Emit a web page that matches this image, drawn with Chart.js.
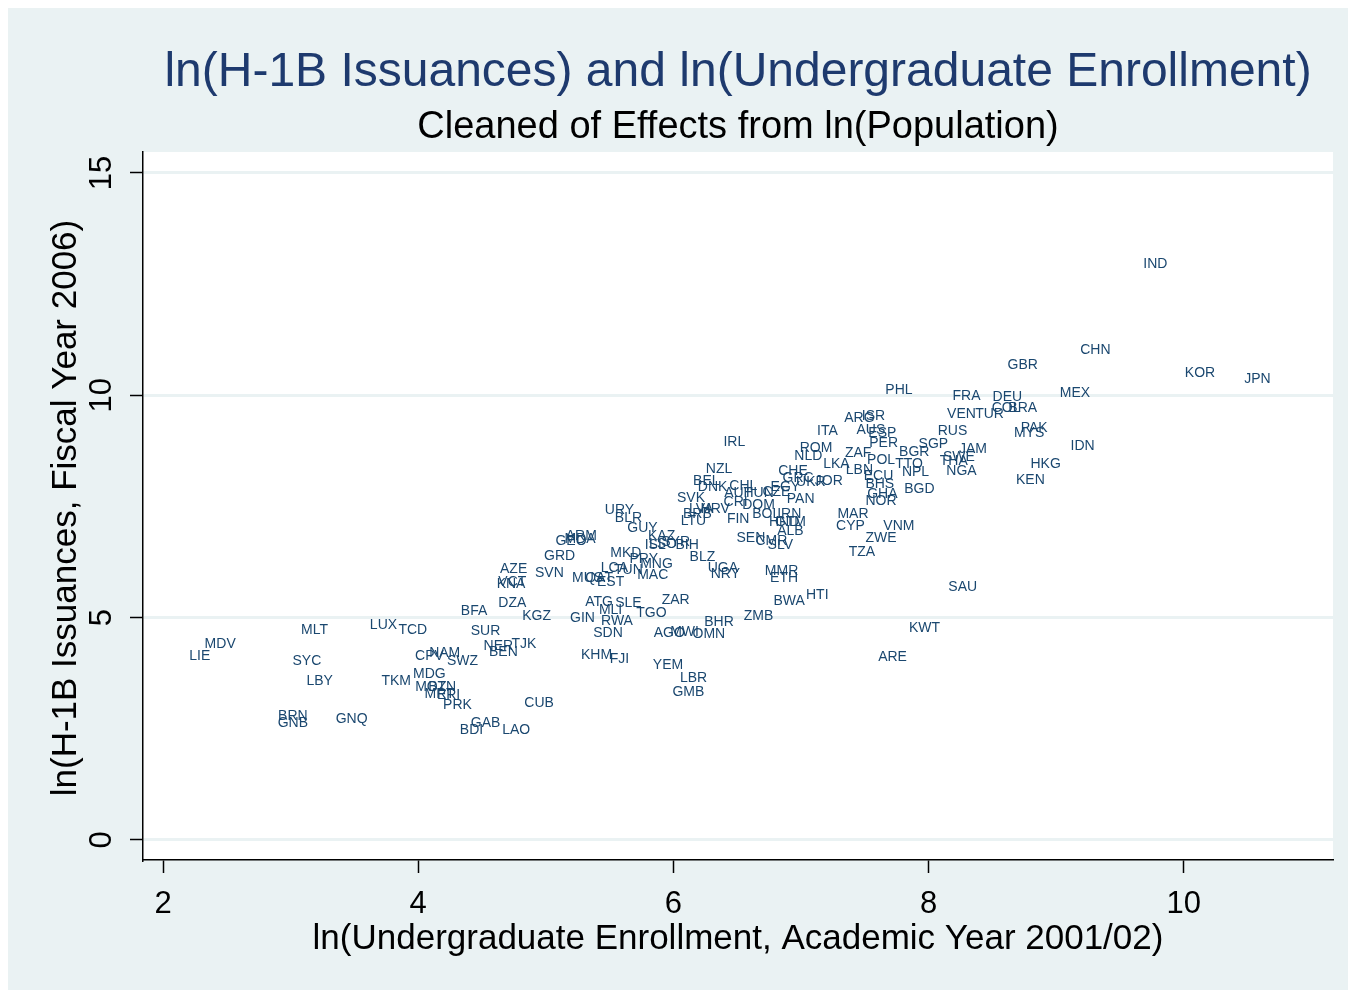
<!DOCTYPE html>
<html lang="en">
<head>
<meta charset="UTF-8">
<title>ln(H-1B Issuances) and ln(Undergraduate Enrollment)</title>
<script src="https://cdn.jsdelivr.net/npm/chart.js"></script>
<style>
    body { margin: 0; background: #fff; }
    canvas { display: block; }
</style>
</head>
<body>
<canvas id="scatter" width="1350" height="993"></canvas>
<script>
// country codes (marker labels)
const countries = [
    'IND','CHN','GBR','KOR','JPN','PHL','MEX','FRA','DEU','VEN','TUR','COL','BRA',
    'ARG','ISR','AUS','ESP','ITA','RUS','PAK','MYS','IRL','IDN','PER','SGP','JAM',
    'ROM','BGR','ZAF','NLD','POL','TTO','SWE','THA','NGA','HKG','KEN','LKA','LBN',
    'NPL','ECU','BHS','GHA','NOR','BGD','CHE','GRC','UKR','JOR','EGY','PAN','CHL',
    'AUT','HUN','CZE','CRI','DOM','FIN','BOL','IRN','HND','GTM','ALB','SEN','CMR',
    'SLV','MAR','CYP','VNM','ZWE','TZA','SAU','KWT','ARE','NZL','BEL','DNK','SVK',
    'LVA','HRV','BRB','LTU','URY','BLR','GUY','KAZ','ISL','LSO','SYR','BIH','MKD',
    'PRY','MNG','LCA','TUN','MAC','BLZ','UGA','NRY','MMR','ETH','HTI','BWA','ZMB',
    'BHR','OMN','AGO','MWI','ZAR','TGO','ATG','SLE','MLI','GIN','RWA','SDN','KHM',
    'FJI','YEM','LBR','GMB','AZE','KNA','VCT','SVN','GRD','GEO','ARM','MDA','MUS',
    'QAT','EST','DZA','KGZ','BFA','SUR','NER','BEN','TJK','CUB','GAB','BDI','LAO',
    'CPV','NAM','SWZ','MDG','MOZ','BTN','MRT','ERI','PRK','TKM','LUX','TCD','MLT',
    'SYC','LBY','BRN','GNB','GNQ','LIE','MDV'
];

// ln(undergraduate enrollment, 2001/02), cleaned of population
const enrollment = [
    9.77, 9.30, 8.73, 10.12, 10.57, 7.76, 9.14, 8.29, 8.61, 8.25, 8.47, 8.60, 8.73,
    7.45, 7.56, 7.54, 7.63, 7.20, 8.18, 8.82, 8.78, 6.47, 9.20, 7.64, 8.03, 8.34,
    7.11, 7.88, 7.44, 7.05, 7.62, 7.84, 8.23, 8.19, 8.25, 8.91, 8.79, 7.27, 7.45,
    7.89, 7.60, 7.61, 7.63, 7.62, 7.92, 6.93, 6.97, 7.07, 7.21, 6.87, 6.99, 6.54,
    6.50, 6.66, 6.80, 6.48, 6.66, 6.50, 6.72, 6.90, 6.86, 6.91, 6.91, 6.60, 6.76,
    6.83, 7.40, 7.38, 7.76, 7.62, 7.47, 8.26, 7.96, 7.71, 6.35, 6.25, 6.30, 6.13,
    6.21, 6.32, 6.18, 6.15, 5.57, 5.64, 5.75, 5.90, 5.85, 5.91, 6.01, 6.10, 5.62,
    5.76, 5.86, 5.53, 5.64, 5.83, 6.22, 6.38, 6.40, 6.84, 6.86, 7.12, 6.90, 6.66,
    6.35, 6.27, 5.96, 6.08, 6.01, 5.82, 5.41, 5.64, 5.50, 5.28, 5.55, 5.48, 5.39,
    5.57, 5.95, 6.15, 6.11, 4.74, 4.72, 4.73, 5.02, 5.10, 5.19, 5.27, 5.26, 5.32,
    5.41, 5.50, 4.73, 4.92, 4.43, 4.52, 4.62, 4.66, 4.82, 4.94, 4.52, 4.41, 4.76,
    4.08, 4.20, 4.34, 4.08, 4.09, 4.18, 4.16, 4.23, 4.30, 3.82, 3.72, 3.95, 3.18,
    3.12, 3.22, 3.01, 3.01, 3.47, 2.28, 2.44
];

// ln(H-1B issuances, FY2006), cleaned of population
const issuances = [
    12.97, 11.04, 10.70, 10.52, 10.39, 10.14, 10.07, 10.01, 9.98, 9.60, 9.60, 9.74, 9.74,
    9.51, 9.56, 9.24, 9.17, 9.22, 9.22, 9.29, 9.17, 8.97, 8.88, 8.95, 8.93, 8.81,
    8.84, 8.75, 8.72, 8.66, 8.57, 8.48, 8.64, 8.55, 8.32, 8.48, 8.12, 8.48, 8.34,
    8.30, 8.21, 8.03, 7.80, 7.65, 7.92, 8.32, 8.16, 8.07, 8.10, 7.96, 7.69, 7.98,
    7.83, 7.83, 7.85, 7.62, 7.56, 7.24, 7.35, 7.35, 7.17, 7.17, 6.97, 6.81, 6.75,
    6.66, 7.35, 7.08, 7.08, 6.81, 6.50, 5.71, 4.79, 4.14, 8.37, 8.10, 7.96, 7.71,
    7.47, 7.47, 7.35, 7.20, 7.44, 7.26, 7.04, 6.86, 6.66, 6.68, 6.72, 6.66, 6.48,
    6.34, 6.23, 6.14, 6.09, 5.98, 6.39, 6.14, 6.00, 6.07, 5.91, 5.53, 5.40, 5.06,
    4.92, 4.65, 4.68, 4.70, 5.42, 5.13, 5.37, 5.35, 5.19, 5.01, 4.95, 4.68, 4.18,
    4.09, 3.96, 3.67, 3.35, 6.12, 5.78, 5.82, 6.03, 6.41, 6.75, 6.86, 6.79, 5.91,
    5.91, 5.82, 5.35, 5.06, 5.17, 4.72, 4.38, 4.25, 4.43, 3.10, 2.65, 2.50, 2.50,
    4.16, 4.23, 4.05, 3.76, 3.46, 3.46, 3.31, 3.28, 3.06, 3.60, 4.86, 4.74, 4.74,
    4.05, 3.60, 2.81, 2.65, 2.74, 4.16, 4.43
];

const xTicks = [2, 4, 6, 8, 10];
const yTicks = [0, 5, 10, 15];

const FONT = '"Liberation Sans", Arial, sans-serif';
const NAVY = '#1a476f';

// backgrounds, titles, rotated y ticks, marker labels
const stataLook = {
    id: 'stataLook',
    beforeDraw(chart) {
        const ctx = chart.ctx, a = chart.chartArea;
        ctx.save();
        ctx.fillStyle = '#ffffff';
        ctx.fillRect(0, 0, chart.width, chart.height);
        ctx.fillStyle = '#eaf2f3';
        ctx.fillRect(8, 8, 1340, 982);
        ctx.fillStyle = '#ffffff';
        ctx.fillRect(a.left, a.top, a.right - a.left, a.bottom - a.top);
        ctx.restore();
    },
    afterDatasetsDraw(chart) {
        const ctx = chart.ctx;
        const meta = chart.getDatasetMeta(0);
        ctx.save();
        ctx.font = '14px ' + FONT;
        ctx.fillStyle = NAVY;
        ctx.textAlign = 'center';
        ctx.textBaseline = 'middle';
        meta.data.forEach((pt, i) => {
            ctx.fillText(countries[i], pt.x + 1, pt.y + 1);
        });
        ctx.restore();
    },
    afterDraw(chart) {
        const ctx = chart.ctx, a = chart.chartArea;
        const cx = (a.left + a.right) / 2, cy = (a.top + a.bottom) / 2;
        ctx.save();
        ctx.textAlign = 'center';
        ctx.textBaseline = 'middle';

        ctx.fillStyle = '#1e3a6e';
        ctx.font = '48px ' + FONT;
        ctx.fillText('ln(H-1B Issuances) and ln(Undergraduate Enrollment)', cx, 73);
        ctx.fillStyle = '#000';
        ctx.font = '38px ' + FONT;
        ctx.fillText('Cleaned of Effects from ln(Population)', cx, 128);

        ctx.font = '35px ' + FONT;
        ctx.fillText('ln(Undergraduate Enrollment, Academic Year 2001/02)', cx, 939);

        // y axis: title and tick labels, rotated
        const y = chart.scales.y;
        ctx.save();
        ctx.translate(66, cy + 2);
        ctx.rotate(-Math.PI / 2);
        ctx.fillText('ln(H-1B Issuances, Fiscal Year 2006)', 0, 0);
        ctx.restore();
        ctx.font = '31px ' + FONT;
        y.ticks.forEach(t => {
            ctx.save();
            ctx.translate(102, y.getPixelForValue(t.value));
            ctx.rotate(-Math.PI / 2);
            ctx.fillText(String(t.value), 0, 0);
            ctx.restore();
        });
        ctx.restore();
    }
};

new Chart(document.getElementById('scatter'), {
    type: 'scatter',
    data: {
        datasets: [{
            data: countries.map((c, i) => ({ x: enrollment[i], y: issuances[i] })),
            pointRadius: 0,
            pointHoverRadius: 0
        }]
    },
    options: {
        responsive: false,
        animation: false,
        devicePixelRatio: 1,
        layout: { padding: { left: 8, top: 152, right: 17, bottom: 0 } },
        plugins: {
            legend: { display: false },
            tooltip: { enabled: false }
        },
        scales: {
            x: {
                type: 'linear',
                min: 1.843,
                max: 11.17,
                afterBuildTicks: s => { s.ticks = xTicks.map(v => ({ value: v })); },
                afterFit: s => { s.height = 133; },
                grid: { drawOnChartArea: false, tickLength: 13, tickWidth: 1.5, tickColor: '#000' },
                border: { display: true, color: '#000', width: 1.5 },
                ticks: { color: '#000', font: { size: 31, family: FONT }, padding: 13, maxRotation: 0 }
            },
            y: {
                type: 'linear',
                min: -0.45,
                max: 15.47,
                afterBuildTicks: s => { s.ticks = yTicks.map(v => ({ value: v })); },
                afterFit: s => { s.width = 135; },
                grid: { color: '#eaf2f3', lineWidth: 3, tickLength: 13, tickWidth: 1.5, tickColor: '#000' },
                border: { display: true, color: '#000', width: 1.5 },
                ticks: { display: false }
            }
        }
    },
    plugins: [stataLook]
});
</script>
</body>
</html>
